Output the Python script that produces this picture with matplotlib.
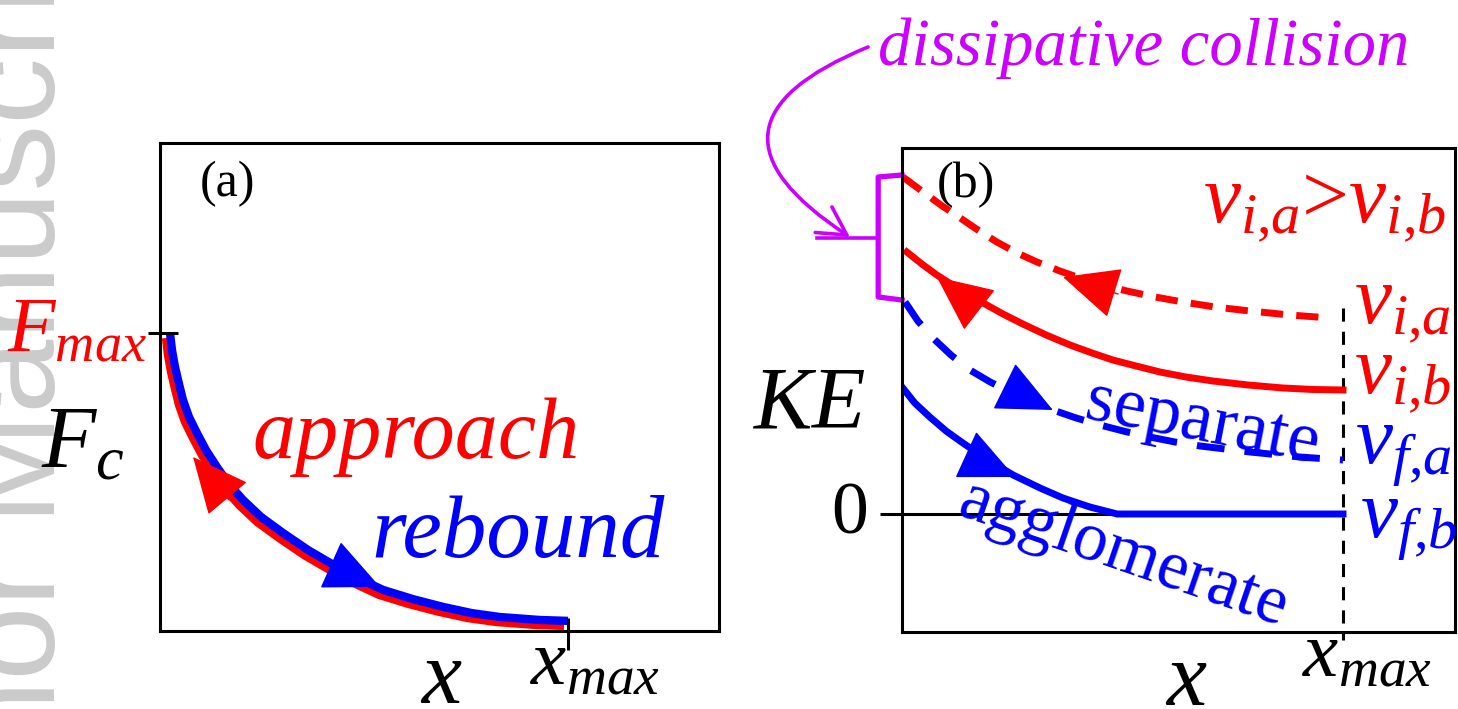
import matplotlib.pyplot as plt
from matplotlib import transforms

plt.rcParams['font.family'] = ['Liberation Serif', 'DejaVu Serif']
plt.rcParams['mathtext.fontset'] = 'custom'
plt.rcParams['mathtext.rm'] = 'Liberation Serif'
plt.rcParams['mathtext.it'] = 'Liberation Serif:italic'
plt.rcParams['mathtext.bf'] = 'Liberation Serif:bold'

RED = '#ff0000'
BLUE = '#0000ff'
MAGENTA = '#cc00ff'

# (a) contact force vs. separation (x in units of x_max, F in units of F_max)
force_x = [0.0245, 0.0294, 0.0368, 0.0466, 0.0564, 0.0711, 0.0907, 0.1127, 0.1397, 0.1691,
           0.2034, 0.2475, 0.3015, 0.3627, 0.4338, 0.4902, 0.5466, 0.6201, 0.6936, 0.7647,
           0.8333, 0.9314, 1.0]
force_y = [1.0, 0.943, 0.886, 0.829, 0.775, 0.718, 0.664, 0.607, 0.550, 0.493,
           0.440, 0.383, 0.329, 0.272, 0.215, 0.174, 0.138, 0.107, 0.081, 0.060,
           0.047, 0.037, 0.034]

# (b) kinetic energy vs. separation (x in units of x_max, KE arbitrary units)
ke_ia_x = [0.002, 0.048, 0.088, 0.132, 0.172, 0.215, 0.261, 0.306, 0.358, 0.410,
           0.460, 0.510, 0.574, 0.637, 0.710, 0.789, 0.880, 0.971]
ke_ia_y = [1.685, 1.61, 1.545, 1.48, 1.42, 1.36, 1.305, 1.26, 1.215, 1.175,
           1.1425, 1.115, 1.085, 1.06, 1.035, 1.015, 0.995, 0.98]
ke_ib_x = [0.011, 0.045, 0.079, 0.132, 0.184, 0.229, 0.274, 0.327, 0.381, 0.431,
           0.478, 0.531, 0.585, 0.644, 0.705, 0.785, 0.864, 0.932, 1.0]
ke_ib_y = [1.31, 1.25, 1.195, 1.12, 1.055, 1.0, 0.95, 0.895, 0.845, 0.805,
           0.77, 0.74, 0.71, 0.685, 0.665, 0.645, 0.63, 0.6225, 0.62]
ke_fa_x = [0.007, 0.036, 0.070, 0.111, 0.154, 0.200, 0.245, 0.293, 0.342, 0.395,
           0.449, 0.506, 0.562, 0.619, 0.676, 0.789, 0.902, 1.0]
ke_fa_y = [1.06, 0.965, 0.88, 0.795, 0.72, 0.66, 0.61, 0.5625, 0.52, 0.48,
           0.445, 0.4125, 0.385, 0.36, 0.34, 0.31, 0.285, 0.27]
ke_fb_x = [0.0, 0.029, 0.063, 0.100, 0.138, 0.195, 0.252, 0.313, 0.365, 0.426, 0.488, 1.0]
ke_fb_y = [0.635, 0.555, 0.485, 0.415, 0.355, 0.27, 0.195, 0.13, 0.08, 0.035, 0.0, 0.0]

W, H = 1458, 709
fig = plt.figure(figsize=(W / 100, H / 100), dpi=100)

# faint manuscript watermark down the left edge, behind everything
fig.text(55 / W, -245 / H, 'Author Manuscript', rotation=90, rotation_mode='anchor',
         ha='left', va='baseline', fontsize=96, color='#cbcbcb',
         family='Liberation Sans', zorder=-5)


def head(ax, tip, base, color, length=3.7, width=1.7):
    ax.annotate('', xy=tip, xytext=base, annotation_clip=False,
                arrowprops=dict(arrowstyle=f'-|>,head_length={length},head_width={width}',
                                color=color, lw=1, shrinkA=0, shrinkB=0,
                                mutation_scale=10))


def frame(ax):
    ax.set_xticks([])
    ax.set_yticks([])
    for s in ax.spines.values():
        s.set_linewidth(2.2)
        s.set_color('k')
    ax.patch.set_alpha(0)


# ---------------- panel (a) ----------------
ax1 = fig.add_axes([160 / W, (H - 631) / H, 559 / W, 488 / H])
ax1.set_xlim(0, 559 / 408)
ax1.set_ylim(0, 488 / 298)
frame(ax1)

shifted = transforms.offset_copy(ax1.transData, fig=fig, x=-4, y=-5, units='dots')
ax1.plot(force_x, force_y, color=RED, lw=6, transform=shifted, solid_capstyle='butt')
ax1.plot(force_x, force_y, color=BLUE, lw=6, solid_capstyle='butt')
head(ax1, (0.081, 0.584), (0.169, 0.440), RED)
head(ax1, (0.539, 0.148), (0.441, 0.208), BLUE)

ax1.plot([-0.029, 0.044], [1, 1], color='k', lw=2.2, clip_on=False, solid_capstyle='butt')
ax1.plot([1, 1], [0.044, -0.064], color='k', lw=2.2, clip_on=False, solid_capstyle='butt')

ax1.text(0.098, 1.46, '(a)', fontsize=36, va='baseline')
ax1.text(-0.032, 0.936, r'$F_{max}$', color=RED, fontsize=56, ha='right', va='baseline')
ax1.text(-0.086, 0.55, r'$F_c$', color='k', fontsize=64, ha='right', va='baseline')
ax1.text(0.226, 0.58, 'approach', color=RED, fontsize=62, style='italic', va='baseline')
ax1.text(0.517, 0.248, 'rebound', color=BLUE, fontsize=64, style='italic', va='baseline')
ax1.text(0.637, -0.242, r'$x$', fontsize=65, va='baseline')
ax1.text(0.907, -0.181, r'$x_{max}$', fontsize=57, va='baseline')

# ---------------- panel (b) ----------------
ax2 = fig.add_axes([902 / W, (H - 632) / H, 553 / W, 484 / H])
ax2.set_xlim(0, 553 / 441)
ax2.set_ylim(-118 / 200, 366 / 200)
frame(ax2)

ax2.plot([1, 1], [1.03, -0.63], color='k', lw=2.2, ls=(0, (4.3, 3.3)), clip_on=False)
ax2.plot([-0.05, 0.5], [0, 0], color='k', lw=2.2, clip_on=False, solid_capstyle='butt')

ax2.plot(ke_ia_x, ke_ia_y, color=RED, lw=5, ls=(0, (3.2, 1.9)), dash_capstyle='butt')
ax2.plot(ke_ib_x, ke_ib_y, color=RED, lw=5)
ax2.plot(ke_fa_x, ke_fa_y, color=BLUE, lw=5, ls=(0, (4.0, 2.9)), dash_capstyle='butt')
ax2.plot(ke_fb_x, ke_fb_y, color=BLUE, lw=5)

head(ax2, (0.365, 1.185), (0.490, 1.10), RED)
head(ax2, (0.079, 1.185), (0.170, 1.03), RED)
head(ax2, (0.342, 0.52), (0.236, 0.635), BLUE)
head(ax2, (0.256, 0.185), (0.152, 0.29), BLUE)

# bracket marking the energy lost in the collision
ax2.plot([0.0, -0.054, -0.054, 0.0], [1.695, 1.685, 1.085, 1.07], color=MAGENTA, lw=3.8,
         clip_on=False, solid_joinstyle='round')
ax2.plot([-0.193, -0.054], [1.38, 1.38], color=MAGENTA, lw=2.6, clip_on=False)
ax2.annotate('', xy=(-0.118, 1.385), xytext=(-0.077, 2.335), annotation_clip=False,
             arrowprops=dict(arrowstyle='->,head_length=2.0,head_width=1.1', color=MAGENTA,
                             lw=2.6, connectionstyle='arc3,rad=0.95', shrinkA=0, shrinkB=0))
ax2.text(-0.054, 2.245, 'dissipative collision', color=MAGENTA, fontsize=48,
         style='italic', va='baseline')

ax2.text(0.079, 1.585, '(b)', fontsize=36, va='baseline')
ax2.text(0.683, 1.46, r'$v_{i{,}a}$>$v_{i{,}b}$', color=RED, fontsize=60, va='baseline')
ax2.text(1.025, 0.955, r'$v_{i{,}a}$', color=RED, fontsize=60, va='baseline')
ax2.text(1.025, 0.605, r'$v_{i{,}b}$', color=RED, fontsize=60, va='baseline')
ax2.text(1.027, 0.255, r'$v_{f{,}a}$', color=BLUE, fontsize=60, va='baseline')
ax2.text(1.039, -0.115, r'$v_{f{,}b}$', color=BLUE, fontsize=60, va='baseline')
ax2.text(-0.084, 0.43, r'$KE$', fontsize=63, ha='right', va='baseline')
ax2.text(-0.077, -0.095, '0', fontsize=53, ha='right', va='baseline')
ax2.text(0.596, -0.955, r'$x$', fontsize=65, va='baseline')
ax2.text(0.907, -0.815, r'$x_{max}$', fontsize=57, va='baseline')
ax2.text(0.41, 0.48, 'separate', color=BLUE, fontsize=52, rotation=-11,
         rotation_mode='anchor', va='baseline')
ax2.text(0.12, -0.005, 'agglomerate', color=BLUE, fontsize=50, rotation=-19,
         rotation_mode='anchor', va='baseline')

fig.savefig('out.png', dpi=100)
